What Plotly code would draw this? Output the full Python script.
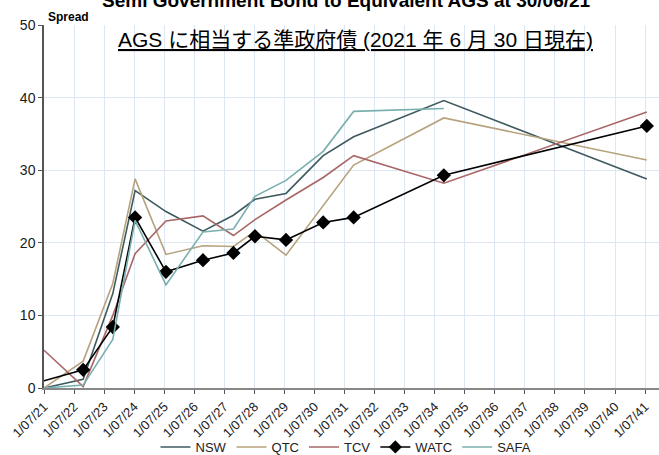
import plotly.graph_objects as go

# ---- data ----
dates = ["2021-07-01", "2022-10-20", "2023-10-15", "2024-07-12", "2025-07-22",
         "2026-10-15", "2027-10-20", "2028-07-08", "2029-07-20", "2030-10-15",
         "2031-10-20", "2034-10-20", "2041-07-22"]
nsw = [0.0, 1.2, 13.0, 27.2, 24.3, 21.6, 23.8, 26.0, 26.8, 32.0, 34.6, 39.6, 28.8]
qtc = [0.0, 3.7, 14.4, 28.8, 18.4, 19.6, 19.5, 21.6, 18.3, 25.2, 30.7, 37.2, 31.4]
tcv = [5.2, 0.2, 10.0, 18.5, 23.0, 23.7, 21.0, 23.2, 25.9, 29.0, 32.0, 28.2, 38.0]
watc = [1.0, 2.5, 8.4, 23.5, 16.0, 17.6, 18.6, 20.9, 20.4, 22.8, 23.5, 29.3, 36.1]
safa = [0.0, 0.4, 6.7, 23.1, 14.2, 21.5, 21.9, 26.4, 28.6, 32.6, 38.1, 38.5, None]

tick_years = list(range(2021, 2042))
tick_vals = [f"{y}-07-01" for y in tick_years]
tick_text = [f"1/07/{y % 100:02d}" for y in tick_years]

W, H = 659, 455
L, R, T, B = 44, 0, 25, 67
ph = H - T - B
pw = W - L - R

def px_x(x):
    return (x - L) / pw

def px_y(y):
    return (H - B - y) / ph

fig = go.Figure()
series = [("NSW", nsw, "#3e5a5f"), ("QTC", qtc, "#b7a27d"), ("TCV", tcv, "#a96666"),
          ("WATC", watc, "#000000"), ("SAFA", safa, "#79afae")]
for name, vals, col in series:
    if name == "WATC":
        sizes = [0] + [11] * (len(vals) - 1)
        fig.add_trace(go.Scatter(x=dates, y=vals, name=name, mode="lines+markers",
                                 line=dict(color=col, width=1.6),
                                 marker=dict(symbol="diamond", size=sizes, color=col,
                                             opacity=1, line=dict(width=0, color=col))))
    else:
        fig.add_trace(go.Scatter(x=dates, y=vals, name=name, mode="lines",
                                 line=dict(color=col, width=1.6), connectgaps=False))

fig.update_layout(
    template="none",
    width=W, height=H,
    margin=dict(l=L, r=R, t=T, b=B, pad=0, autoexpand=False),
    paper_bgcolor="white", plot_bgcolor="white",
    font=dict(family="Liberation Sans, Arial, sans-serif", color="#1a1a1a"),
    showlegend=True,
    legend=dict(orientation="h", x=px_x(346), xanchor="center", y=px_y(447), yanchor="middle",
                font=dict(size=13, color="#222"), itemwidth=30, tracegroupgap=0,
                bgcolor="rgba(0,0,0,0)"),
    xaxis=dict(type="date", range=["2021-07-01", "2041-12-17"], automargin=False,
               tickmode="array", tickvals=tick_vals, ticktext=tick_text,
               tickangle=-45, tickfont=dict(size=13, color="#222"),
               showgrid=True, gridcolor="#dde7f4", gridwidth=1,
               showline=True, linecolor="#888888", linewidth=2,
               ticks="outside", ticklen=4, tickcolor="#555", zeroline=False),
    yaxis=dict(range=[0, 50], tickvals=[0, 10, 20, 30, 40, 50], automargin=False,
               tickfont=dict(size=14, color="#1a1a1a"),
               showgrid=True, gridcolor="#dde7f4", gridwidth=1,
               showline=True, linecolor="#555555", linewidth=1.5,
               ticks="outside", ticklen=4, tickcolor="#555", zeroline=False),
)

# white box behind the subtitle
fig.add_shape(type="rect", xref="paper", yref="paper",
              x0=px_x(58), x1=px_x(589), y0=px_y(60), y1=px_y(22),
              fillcolor="white", line=dict(width=0), layer="between")

fig.add_annotation(text="<b>Semi Government Bond to Equivalent AGS at 30/06/21</b>",
                   xref="paper", yref="paper", x=px_x(346), y=px_y(13),
                   xanchor="center", yanchor="bottom", showarrow=False,
                   font=dict(size=19, color="#000"))
fig.add_annotation(text="<b>Spread</b>", xref="paper", yref="paper",
                   x=px_x(46), y=px_y(17), xanchor="left", yanchor="middle",
                   showarrow=False, font=dict(size=12, color="#000"))
fig.add_annotation(text="<u>AGS に相当する準政府債 (2021 年 6 月 30 日現在)</u>",
                   xref="paper", yref="paper", x=px_x(355), y=px_y(40),
                   xanchor="center", yanchor="middle", showarrow=False,
                   font=dict(size=21, color="#000",
                             family="Liberation Sans, Noto Sans CJK JP, sans-serif"))

fig.write_html("out.html", config={"displayModeBar": False},
               post_script="document.body.style.margin='0';document.body.style.overflow='hidden';")
